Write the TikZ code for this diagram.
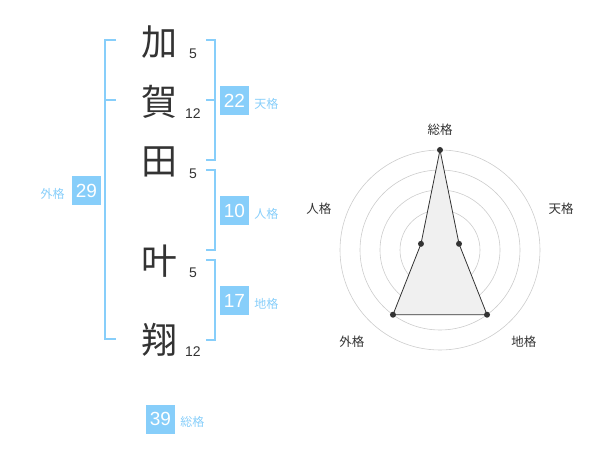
\documentclass[tikz,border=0pt]{standalone}
\usepackage{fontspec}
\setmainfont{Liberation Sans}
\newfontfamily\jp{Noto Sans CJK JP}
\usetikzlibrary{positioning}
\definecolor{kaku}{HTML}{87CEFA}
\definecolor{ink}{HTML}{333333}
\tikzset{
  kanji/.style={inner sep=0pt, text=ink, font=\jp\fontsize{36}{36}\selectfont},
  strokes/.style={inner sep=0pt, text=ink, font=\fontsize{14}{14}\selectfont},
  score/.style={fill=kaku, text=white, minimum size=29pt, inner sep=0pt, font=\fontsize{19}{19}\selectfont},
  kname/.style={inner sep=0pt, text=kaku, font=\jp\fontsize{12}{12}\selectfont},
  brace/.style={draw=kaku, line width=2pt},
  ring/.style={draw=black!20, line width=0.6pt},
  axis/.style={inner sep=0pt, text=ink, font=\jp\fontsize{12.5}{12.5}\selectfont},
  dot/.style={circle, fill=ink, inner sep=0pt, minimum size=6pt},
}
\begin{document}
\begin{tikzpicture}[x=1pt, y=-1pt]
    \useasboundingbox (0,0) rectangle (600,470);
    % name and stroke counts
    \foreach \k/\y/\s [count=\i] in {加/42/5, 賀/102/12, 田/162/5, 叶/261/5, 翔/340/12} {
      \node[kanji] (k\i) at (159,\y) {\k};
      \node[strokes] (n\i) at (193,\y+12) {\s};
    }

    % brackets
    \draw[brace] (116,40) -- (105,40) -- (105,339) -- (116,339);
    \draw[brace] (105,100) -- (116,100);
    \draw[brace] (206,40) -- (215,40) -- (215,160) -- (206,160);
    \draw[brace] (206,100) -- (215,100);
    \draw[brace] (206,170) -- (215,170) -- (215,250) -- (206,250);
    \draw[brace] (206,260) -- (215,260) -- (215,340) -- (206,340);

    % scores
    \node[score] (s1) at (234.5,100.5) {22};
    \node[kname, right=5pt of s1, yshift=-3pt] (t1) {天格};
    \node[score] (s2) at (234.5,210.5) {10};
    \node[kname, right=5pt of s2, yshift=-3pt] (t2) {人格};
    \node[score] (s3) at (234.5,300.5) {17};
    \node[kname, right=5pt of s3, yshift=-3pt] (t3) {地格};
    \node[score] (s4) at (86.5,190.5) {29};
    \node[kname, left=7pt of s4, yshift=-3pt] (t4) {外格};
    \node[score] (s5) at (160.5,419) {39};
    \node[kname, right=5pt of s5, yshift=-3pt] (t5) {総格};

    % radar
    \begin{scope}[shift={(440,250)}, yscale=-1]
      \foreach \r in {20,40,...,100}
      \draw[ring] (0,0) circle[radius=\r];
      \node[circle, fill=black!20, inner sep=0pt, minimum size=6pt] (o) at (0,0) {};
      \foreach \a/\r/\la/\lr/\t [count=\i] in {90/100/90/120/総格, 18/20/19/128/天格, -54/80/-47.5/124/地格, -126/80/-134/127/外格, 162/20/161/128/人格} {
        \coordinate (p\i) at (\a:\r);
        \node[axis] (l\i) at (\la:\lr) {\t};
      }
      \draw[ink, fill=black!6, line width=0.8pt] (p1) -- (p2) -- (p3) -- (p4) -- (p5) -- cycle;
      \foreach \i in {1,...,5}
      \node[dot] (d\i) at (p\i) {};
    \end{scope}
\end{tikzpicture}
\end{document}
